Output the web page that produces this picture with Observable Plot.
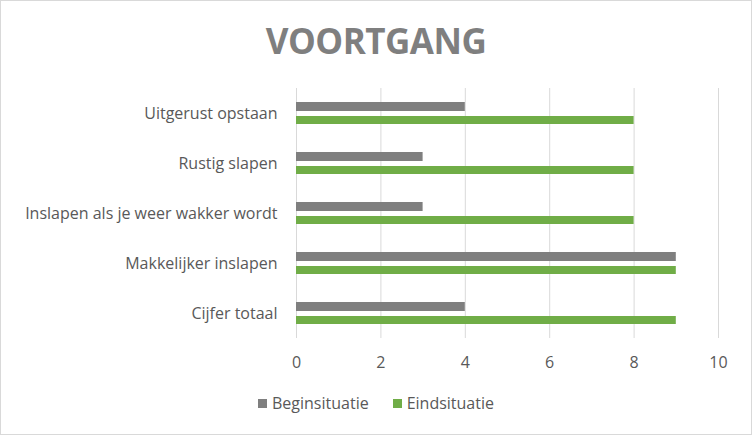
<!DOCTYPE html>
<html>
<head>
<meta charset="utf-8">
<script src="https://cdn.jsdelivr.net/npm/d3@7"></script>
<script src="https://cdn.jsdelivr.net/npm/@observablehq/plot@0.6"></script>
<style>
  html, body { margin: 0; padding: 0; background: #fff; }
  #wrap { position: relative; width: 752px; height: 435px; font-family: "Open Sans", sans-serif; }
  #frame { position: absolute; left: 0; top: 0; width: 750px; height: 433px; border: 1px solid #d9d9d9; pointer-events: none; }
  #title { position: absolute; left: 0; width: 752px; top: 17px; text-align: center; font-size: 35px; line-height: 48px; font-weight: bold; color: #7f7f7f; letter-spacing: -0.5px; }
  #legend { position: absolute; left: 0; width: 752px; top: 392px; display: flex; justify-content: center; gap: 24px; font-size: 16px; line-height: 22px; color: #595959; }
  .item { display: flex; align-items: center; gap: 5px; }
  .sw { width: 9px; height: 9px; display: inline-block; }
  #chart { position: absolute; left: 0; top: 0; }
</style>
</head>
<body>
<div id="wrap">
  <div id="chart"></div>
  <div id="title">VOORTGANG</div>
  <div id="legend"></div>
  <div id="frame"></div>
</div>
<script>
const categories = ["Uitgerust opstaan", "Rustig slapen", "Inslapen als je weer wakker wordt", "Makkelijker inslapen", "Cijfer totaal"];
const series = ["Beginsituatie", "Eindsituatie"];
const beginValues = [4, 3, 3, 9, 4];
const eindValues = [8, 8, 8, 9, 9];
const xTicks = [0, 2, 4, 6, 8, 10];
const colors = ["#7f7f7f", "#70ad47"];

const begin = categories.map((c, i) => ({category: c, value: beginValues[i]}));
const eind = categories.map((c, i) => ({category: c, value: eindValues[i]}));

const chart = Plot.plot({
  width: 752,
  height: 435,
  marginLeft: 296,
  marginRight: 34,
  marginTop: 88,
  marginBottom: 97,
  style: {fontFamily: "Open Sans, sans-serif", fontSize: "16px", color: "#595959", background: "transparent"},
  x: {domain: [0, 10], ticks: xTicks, label: null},
  y: {domain: categories, padding: 0, label: null},
  marks: [
    Plot.gridX(xTicks, {stroke: "#d9d9d9", strokeOpacity: 1, strokeWidth: 1}),
    Plot.barX(begin, {x: "value", y: "category", fill: colors[0], insetTop: 14, insetBottom: 27}),
    Plot.barX(eind, {x: "value", y: "category", fill: colors[1], insetTop: 28, insetBottom: 14}),
    Plot.axisX({ticks: xTicks, tickSize: 0, tickPadding: 18, fontSize: 16, fill: "#595959", label: null}),
    Plot.axisY({tickSize: 0, tickPadding: 19, fontSize: 16, fill: "#595959", label: null})
  ]
});
document.getElementById("chart").appendChild(chart);

const legend = document.getElementById("legend");
series.forEach((s, i) => {
  const it = document.createElement("div");
  it.className = "item";
  it.innerHTML = `<span class="sw" style="background:${colors[i]}"></span><span>${s}</span>`;
  legend.appendChild(it);
});
</script>
</body>
</html>
